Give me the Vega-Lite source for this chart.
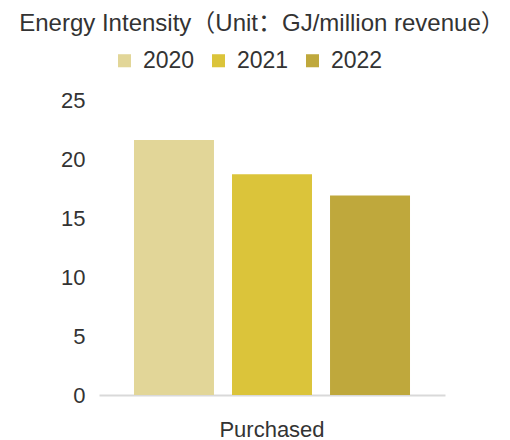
{
  "$schema": "https://vega.github.io/schema/vega-lite/v6.json",
  "width": 346,
  "height": 295,
  "autosize": "none",
  "padding": {"left": 99, "top": 100, "right": 65, "bottom": 45},
  "background": "white",
  "title": {
    "text": "Energy Intensity（Unit：GJ/million revenue）",
    "fontSize": 24,
    "fontWeight": "normal",
    "color": "#333333",
    "font": "Liberation Sans, Noto Sans CJK SC",
    "anchor": "middle",
    "dx": -10,
    "offset": 13
  },
  "data": {
    "values": [
      {"category": "Purchased", "year": "2020", "value": 21.6},
      {"category": "Purchased", "year": "2021", "value": 18.7},
      {"category": "Purchased", "year": "2022", "value": 16.9}
    ]
  },
  "mark": {"type": "bar"},
  "encoding": {
    "x": {
      "field": "category",
      "type": "nominal",
      "scale": {"paddingInner": 0, "paddingOuter": 0},
      "axis": {
        "title": null,
        "labelAngle": 0,
        "labelFontSize": 22,
        "labelColor": "#333333",
        "labelFont": "Liberation Sans",
        "labelPadding": 24,
        "ticks": false,
        "domainColor": "#d9d9d9",
        "domainWidth": 2
      }
    },
    "xOffset": {
      "field": "year",
      "type": "nominal",
      "scale": {"paddingInner": 0.184, "paddingOuter": 0.357}
    },
    "y": {
      "field": "value",
      "type": "quantitative",
      "scale": {"domain": [0, 25]},
      "axis": {
        "title": null,
        "values": [0, 5, 10, 15, 20, 25],
        "grid": false,
        "domain": false,
        "ticks": false,
        "labelFontSize": 22,
        "labelColor": "#333333",
        "labelFont": "Liberation Sans",
        "labelPadding": 14
      }
    },
    "color": {
      "field": "year",
      "type": "nominal",
      "scale": {"domain": ["2020", "2021", "2022"], "range": ["#E2D698", "#DBC43A", "#BFA83C"]},
      "legend": {
        "title": null,
        "orient": "none",
        "direction": "horizontal",
        "legendX": 14,
        "legendY": -51,
        "symbolType": "square",
        "symbolSize": 170,
        "symbolStrokeWidth": 0,
        "labelFontSize": 23,
        "labelColor": "#333333",
        "labelFont": "Liberation Sans",
        "columnPadding": 12,
        "labelOffset": 7
      }
    }
  },
  "config": {"view": {"stroke": null}}
}
